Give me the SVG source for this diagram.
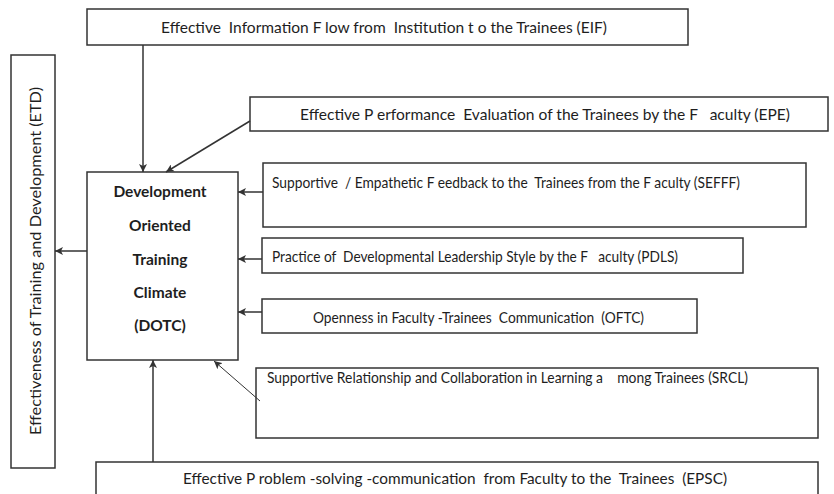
<svg xmlns="http://www.w3.org/2000/svg" width="834" height="494" viewBox="0 0 834 494">
  <defs>
    <style>
      .box { fill: #ffffff; stroke: #333333; stroke-width: 1.5; }
      .lbl { font-family: Lato, "Open Sans", "Liberation Sans", sans-serif; font-size: 15px; fill: #1e1e1e; white-space: pre; }
      .core { font-family: Lato, "Open Sans", "Liberation Sans", sans-serif; font-size: 15.5px; font-weight: bold; fill: #1e1e1e; text-anchor: middle; }
      .conn { stroke: #333333; stroke-width: 1.5; fill: none; marker-end: url(#head); }
      .thin { stroke-width: 1; }
    </style>
    <marker id="head" viewBox="0 0 10 10" refX="10" refY="5" markerWidth="8" markerHeight="8" markerUnits="userSpaceOnUse" orient="auto">
      <path d="M0,0 L10,5 L0,10 L2.5,5 Z" fill="#333333"/>
    </marker>
  </defs>

  <rect width="834" height="494" fill="#ffffff"/>

  <!-- outcome: Effectiveness of Training and Development -->
  <g id="etd">
    <rect class="box" x="11" y="55" width="44" height="413"/>
    <text class="lbl" transform="translate(41,435) rotate(-90)" textLength="348" lengthAdjust="spacingAndGlyphs">Effectiveness of Training and Development (ETD)</text>
  </g>

  <!-- central construct -->
  <g id="dotc">
    <rect class="box" x="87" y="172" width="151" height="188"/>
    <text class="core" x="160" y="197">Development</text>
    <text class="core" x="160" y="231">Oriented</text>
    <text class="core" x="160" y="265">Training</text>
    <text class="core" x="160" y="298">Climate</text>
    <text class="core" x="160" y="331">(DOTC)</text>
  </g>

  <!-- contributing factors -->
  <g id="eif">
    <rect class="box" x="87" y="9" width="601" height="36"/>
    <text class="lbl" x="161" y="33" textLength="446" lengthAdjust="spacingAndGlyphs">Effective  Information F low from  Institution t o the Trainees (EIF)</text>
  </g>

  <g id="epe">
    <rect class="box" x="250" y="97" width="578" height="34"/>
    <text class="lbl" x="300" y="120" textLength="490" lengthAdjust="spacingAndGlyphs">Effective P erformance  Evaluation of the Trainees by the F   aculty (EPE)</text>
  </g>

  <g id="sefff">
    <rect class="box" x="263" y="163" width="543" height="64"/>
    <text class="lbl" x="272" y="188" textLength="468" lengthAdjust="spacingAndGlyphs">Supportive  / Empathetic F eedback to the  Trainees from the F aculty (SEFFF)</text>
  </g>

  <g id="pdls">
    <rect class="box" x="262" y="238" width="481" height="35"/>
    <text class="lbl" x="272" y="262" textLength="406" lengthAdjust="spacingAndGlyphs">Practice of  Developmental Leadership Style by the F   aculty (PDLS)</text>
  </g>

  <g id="oftc">
    <rect class="box" x="262" y="299" width="435" height="34"/>
    <text class="lbl" x="313" y="323" textLength="331" lengthAdjust="spacingAndGlyphs">Openness in Faculty -Trainees  Communication  (OFTC)</text>
  </g>

  <g id="srcl">
    <rect class="box" x="256" y="368" width="562" height="70"/>
    <text class="lbl" x="267" y="383" textLength="481" lengthAdjust="spacingAndGlyphs">Supportive Relationship and Collaboration in Learning a    mong Trainees (SRCL)</text>
  </g>

  <g id="epsc">
    <rect class="box" x="96" y="462" width="722" height="40"/>
    <text class="lbl" x="183" y="484" textLength="544" lengthAdjust="spacingAndGlyphs">Effective P roblem -solving -communication  from Faculty to the  Trainees  (EPSC)</text>
  </g>

  <!-- connectors -->
  <g id="connectors">
    <line class="conn" x1="143" y1="45" x2="143" y2="172"/>
    <line class="conn" x1="250" y1="121" x2="166" y2="172"/>
    <line class="conn" x1="263" y1="192" x2="238" y2="192"/>
    <line class="conn" x1="262" y1="259" x2="238" y2="259"/>
    <line class="conn" x1="262" y1="312" x2="238" y2="312"/>
    <line class="conn thin" x1="260" y1="401" x2="214" y2="361"/>
    <line class="conn" x1="153" y1="462" x2="153" y2="360"/>
    <line class="conn" x1="87" y1="251" x2="55" y2="251"/>
  </g>
</svg>
